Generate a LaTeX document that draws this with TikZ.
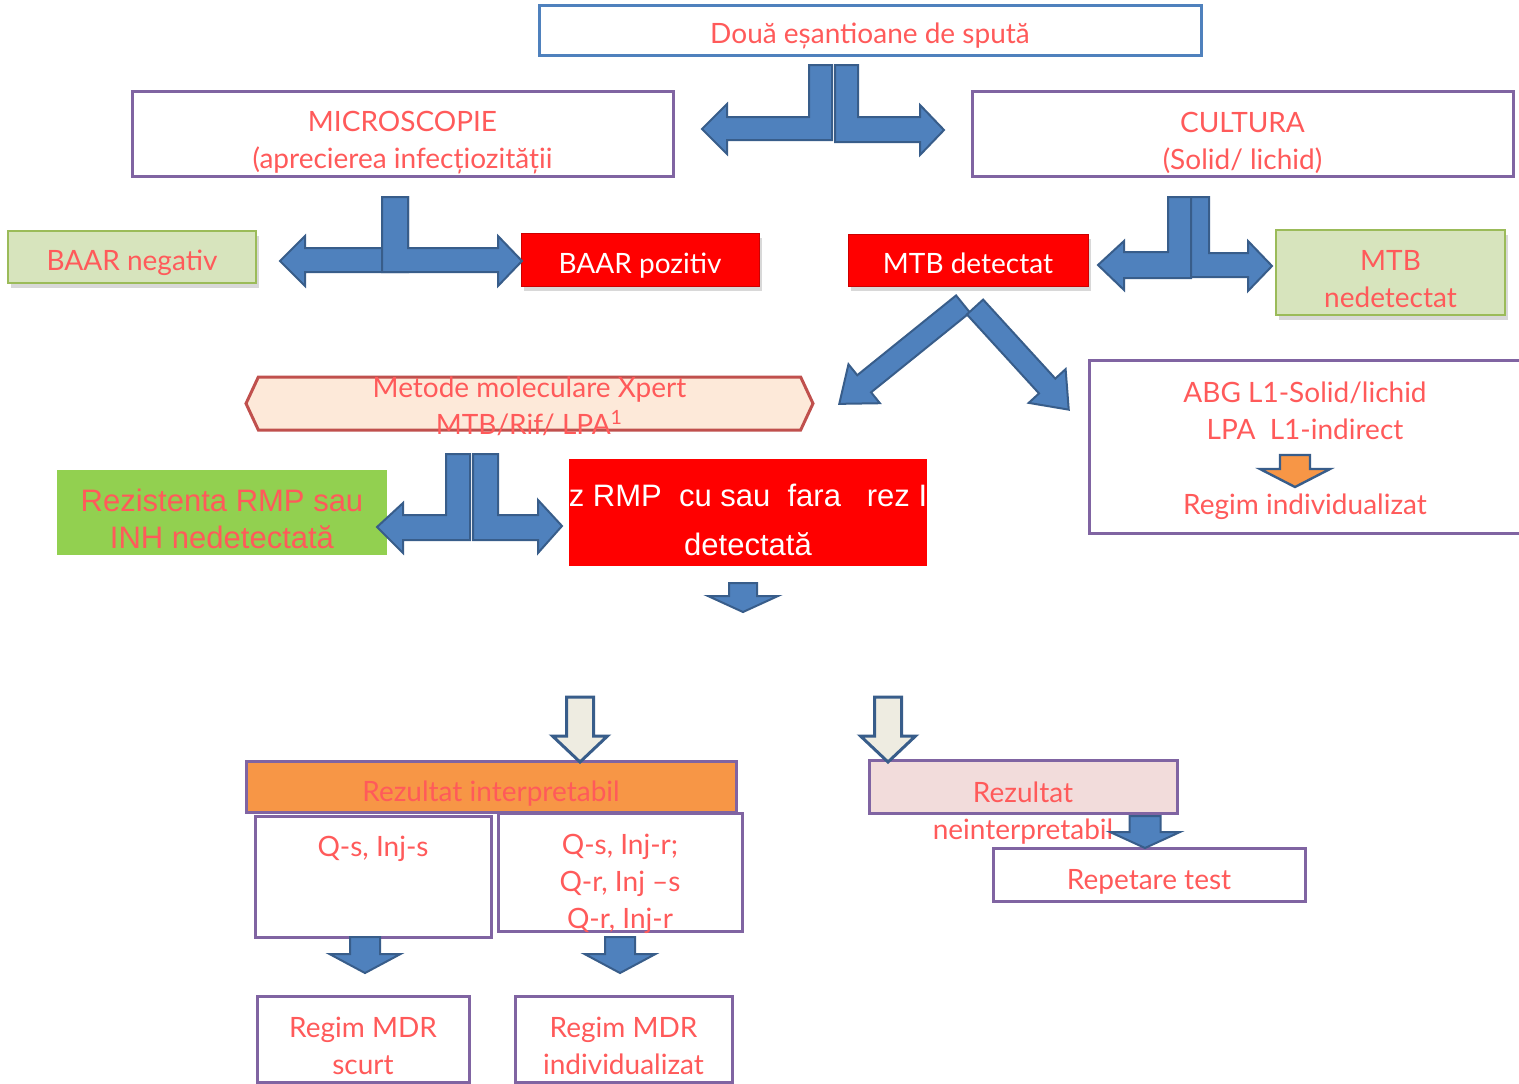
\documentclass[tikz,border=0pt]{standalone}
\usepackage{fontspec}
\setmainfont{Lato}
\newfontfamily\arialfont{Liberation Sans}
\usepackage{tikz}
\usetikzlibrary{shapes.symbols,shadows}

\definecolor{txtred}{RGB}{255,90,90}
\definecolor{boxpurple}{RGB}{128,100,162}
\definecolor{boxblue}{RGB}{79,129,189}
\definecolor{arrfill}{RGB}{79,129,189}
\definecolor{arredge}{RGB}{56,93,138}
\definecolor{palegreen}{RGB}{215,228,189}
\definecolor{olivegreen}{RGB}{155,187,89}
\definecolor{limegreen}{RGB}{146,208,80}
\definecolor{peach}{RGB}{253,233,217}
\definecolor{brickred}{RGB}{192,80,77}
\definecolor{orangefill}{RGB}{247,150,70}
\definecolor{pinkfill}{RGB}{242,220,219}
\definecolor{lightfill}{RGB}{238,236,225}

% straight block arrow along x: length, shaft width, head width, head length
\tikzset{
  pics/blockarr/.style n args={4}{code={
    \path[pic actions] (0,-#2/2) -- (#1-#4,-#2/2) -- (#1-#4,-#3/2) -- (#1,0)
      -- (#1-#4,#3/2) -- (#1-#4,#2/2) -- (0,#2/2) -- cycle;
  }}
}

\begin{document}
\begin{tikzpicture}[x=0.5pt,y=-0.5pt,line join=miter,
    font=\fontsize{14}{18.5}\selectfont,
    box/.style={draw=boxpurple, line width=1.5pt, fill=white, inner sep=0pt},
    boxtxt/.style={text=txtred, align=center, inner sep=0pt},
    redbox/.style={draw=red!80!black, fill=red, inner sep=0pt,
      drop shadow={shadow xshift=1.5pt, shadow yshift=-2.5pt, opacity=0.3}},
    greenbox/.style={draw=olivegreen, line width=1pt, fill=palegreen, inner sep=0pt,
      drop shadow={shadow xshift=1.5pt, shadow yshift=-2.5pt, opacity=0.3}},
    blockarrow/.style={draw=arredge, line width=1pt, fill=arrfill},
    lightarrow/.style={draw=arredge, line width=1.5pt, fill=lightfill},
    orangearrow/.style={draw=arredge, line width=1.2pt, fill=orangefill}]

\path[fill=white] (0,0) rectangle (1519,1083);
\useasboundingbox (0,0) rectangle (1519,1083);

\node[box,
    draw=boxblue,
    minimum width=331pt,
    minimum height=25pt,
    label={[boxtxt,yshift=-3pt]center:{Două eșantioane de spută}}
] (sputa) at (870,30) {};

\node[box,
    minimum width=270.5pt,
    minimum height=42.5pt,
    label={[boxtxt,yshift=-4.5pt]center:{MICROSCOPIE\\(aprecierea infecțiozității}}
] (micro) at (402.5,133.5) {};

\node[box,
    minimum width=270.5pt,
    minimum height=42.5pt,
    label={[boxtxt,yshift=-4.5pt]center:{CULTURA\\(Solid/ lichid)}}
] (cultura) at (1242.5,133.5) {};

\node[greenbox,
    minimum width=124pt,
    minimum height=26pt,
    label={[boxtxt,yshift=-3pt]center:{BAAR negativ}}
] (baarneg) at (132,257) {};

\node[redbox,
    minimum width=119pt,
    minimum height=26.5pt,
    label={[boxtxt,text=white,yshift=-3pt]center:{BAAR pozitiv}}
] (baarpoz) at (640,259.5) {};

\node[redbox,
    minimum width=120pt,
    minimum height=26pt,
    label={[boxtxt,text=white,yshift=-1.5pt]center:{MTB detectat}}
] (mtbdet) at (968,260) {};

\node[greenbox,
    minimum width=114.5pt,
    minimum height=42.5pt,
    label={[boxtxt,yshift=-3.5pt]center:{MTB\\nedetectat}}
] (mtbnedet) at (1390.5,272.5) {};

\node[signal,
    signal to=east and west,
    signal pointer angle=130,
    draw=brickred,
    line width=1.5pt,
    fill=peach,
    inner sep=0pt,
    minimum width=283.5pt,
    minimum height=26.5pt,
    label={[boxtxt,yshift=-1.5pt]center:{Metode moleculare Xpert\\MTB/Rif/ LPA\textsuperscript{1}}}
] (xpert) at (529.5,403.5) {};

\node[box,
    minimum width=216pt,
    minimum height=86.5pt,
    label={[boxtxt,yshift=-2pt]center:{ABG L1-Solid/lichid\\LPA\ \ L1-indirect\\[19pt]Regim individualizat}}
] (abg) at (1305,446.5) {};

\node[fill=limegreen,
    inner sep=0pt,
    minimum width=165pt,
    minimum height=42.5pt,
    label={[boxtxt,yshift=-3pt,font=\arialfont\fontsize{15.5}{18.5}\selectfont]center:{Rezistenta RMP sau\\INH nedetectată}}
] (rmpneg) at (222,512.5) {};

\node[fill=red,
    inner sep=0pt,
    minimum width=179pt,
    minimum height=53.5pt,
    label={[boxtxt,text=white,yshift=-3.5pt,font=\arialfont\fontsize{15.5}{24.5}\selectfont]center:{z RMP\ \ cu sau\ \ fara\ \ \ rez I\\detectată}}
] (rmppoz) at (748,512.5) {};

\node[box,
    fill=orangefill,
    minimum width=245pt,
    minimum height=25.5pt,
    label={[boxtxt,yshift=-3.5pt]center:{Rezultat interpretabil}}
] (interp) at (491,786.5) {};

\node[box,
    minimum width=118pt,
    minimum height=60.5pt,
    label={[boxtxt,yshift=13.75pt]center:{Q-s, Inj-s}}
] (qss) at (373,876.5) {};

\node[box,
    minimum width=122pt,
    minimum height=59pt,
    label={[boxtxt,yshift=-6pt]center:{Q-s, Inj-r;\\Q-r, Inj –s\\Q-r, Inj-r}}
] (qmix) at (620,872) {};

\node[box,
    fill=pinkfill,
    minimum width=154pt,
    minimum height=26.5pt,
    label={[boxtxt,yshift=-13.25pt]center:{Rezultat\\neinterpretabil}}
] (neinterp) at (1023,786.5) {};

\node[box,
    minimum width=156pt,
    minimum height=26.5pt,
    label={[boxtxt,yshift=-3.5pt]center:{Repetare test}}
] (repetare) at (1149,874.5) {};

\node[box,
    minimum width=106pt,
    minimum height=43pt,
    label={[boxtxt,yshift=-3.5pt]center:{Regim MDR\\scurt}}
] (mdrscurt) at (363,1039) {};

\node[box,
    minimum width=108.5pt,
    minimum height=43pt,
    label={[boxtxt,yshift=-3.5pt]center:{Regim MDR\\individualizat}}
] (mdrindiv) at (623.5,1039) {};

% bent arrows
\draw[blockarrow] (809,65) -- (832,65) -- (832,140) -- (727,140) -- (727,154) -- (702,129)
  -- (727,104) -- (727,117) -- (809,117) -- cycle;
\draw[blockarrow] (835,65) -- (858,65) -- (858,117) -- (920,117) -- (920,105) -- (944,130)
  -- (920,155) -- (920,142) -- (835,142) -- cycle;

\draw[blockarrow] (382,197) -- (408,197) -- (408,272) -- (305,272) -- (305,286) -- (280,261)
  -- (305,236) -- (305,248) -- (382,248) -- cycle;
\draw[blockarrow] (382,197) -- (408,197) -- (408,248) -- (498,248) -- (498,236) -- (522,261)
  -- (498,286) -- (498,272) -- (382,272) -- cycle;

\draw[blockarrow] (1168,197) -- (1191,197) -- (1191,278) -- (1124,278) -- (1124,290) -- (1098,265)
  -- (1124,241) -- (1124,252) -- (1168,252) -- cycle;
\draw[blockarrow] (1191,197) -- (1209,197) -- (1209,253) -- (1248,253) -- (1248,241) -- (1272,266)
  -- (1248,291) -- (1248,277) -- (1191,277) -- cycle;

\draw[blockarrow] (446,454) -- (470,454) -- (470,540) -- (403,540) -- (403,553) -- (377,527)
  -- (403,503) -- (403,515) -- (446,515) -- cycle;
\draw[blockarrow] (473,454) -- (498,454) -- (498,515) -- (538,515) -- (538,500) -- (562,526)
  -- (538,553) -- (538,540) -- (473,540) -- cycle;

% straight arrows
\pic[blockarrow, rotate=218.9] at (963,304) {blockarr={159}{22}{50}{32}};
\pic[blockarrow, rotate=-47.6] at (975,307) {blockarr={139}{22}{50}{32}};
\pic[orangearrow, rotate=-90] at (1295,455) {blockarr={32}{30}{70}{18}};
\pic[blockarrow, rotate=-90] at (743,583) {blockarr={29}{28}{70}{16}};
\pic[lightarrow, rotate=-90] at (580,697) {blockarr={65}{27}{55}{26}};
\pic[lightarrow, rotate=-90] at (888,697) {blockarr={65}{27}{55}{26}};
\pic[blockarrow, rotate=-90] at (1145,816) {blockarr={32}{31}{70}{16}};
\pic[blockarrow, rotate=-90] at (365,937) {blockarr={36}{30}{71}{19}};
\pic[blockarrow, rotate=-90] at (620,937) {blockarr={36}{30}{71}{19}};

\end{tikzpicture}
\end{document}
